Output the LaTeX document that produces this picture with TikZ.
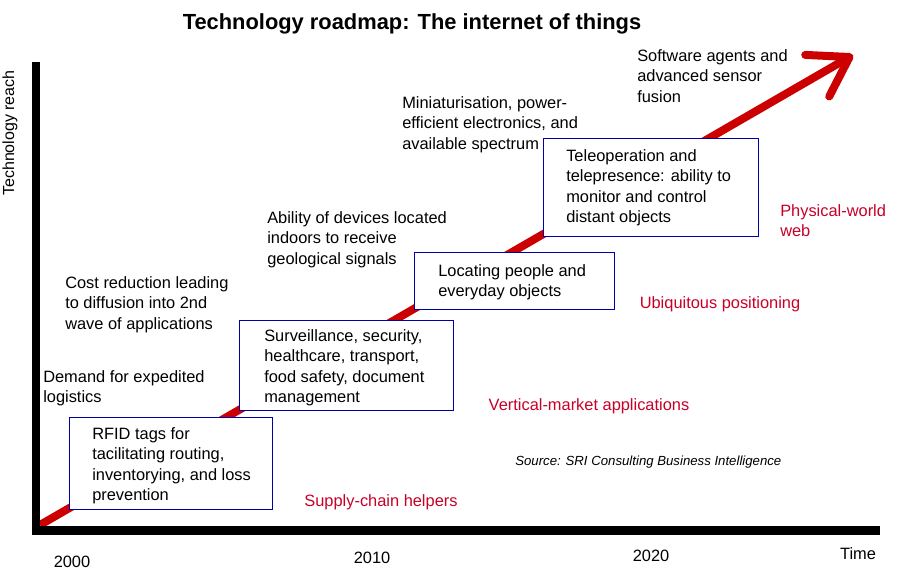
\documentclass[tikz,border=0pt]{standalone}
\usepackage{fontspec}
\setmainfont{Liberation Sans}
\usetikzlibrary{positioning, arrows.meta}
\definecolor{rmred}{RGB}{204, 0, 0}
\definecolor{rmlabel}{RGB}{200, 0, 40}
\definecolor{rmblue}{RGB}{0, 0, 170}

\begin{document}
\begin{tikzpicture}[x=0.75pt, y=-0.75pt,
    txt/.style={anchor=north west, inner sep=0pt, align=left, font=\fontsize{12.3}{15.4}\selectfont},
    phase/.style={anchor=base, inner sep=0pt, rmlabel, font=\fontsize{12.3}{15.4}\selectfont},
    year/.style={anchor=base, inner sep=0pt, font=\fontsize{12.3}{15.4}\selectfont},
    box/.style={draw=rmblue, line width=1.1pt, fill=white, anchor=north west, inner sep=0pt}]
  \useasboundingbox (0,0) rectangle (898,571);
  \node[anchor=base, inner sep=0pt, font=\fontsize{16.4}{20}\selectfont\bfseries] (title) at (412,29){Technology roadmap: The internet of things};

  % roadmap arrow and axes
  \coordinate (start) at (40,525);
  \coordinate (tip) at (853,55);
  \draw[rmred, line width=6pt, -{Straight Barb[length=28pt, width=36pt, round]}] (start) -- (tip);
  \coordinate (ytop) at (36,62);
  \coordinate (origin) at (36,530.5);
  \coordinate (xend) at (880,530.5);
  \draw[line width=6.5pt, line join=miter] (ytop) -- (origin) -- (xend);

  % boxes
  \node[box, minimum width=152pt, minimum height=69pt] (rfid) at (69,417){};
  \node[txt] (rfidtxt) at (92,427){RFID tags for\\tacilitating routing,\\inventorying, and loss\\prevention};
  \node[box, minimum width=160.5pt, minimum height=67.5pt] (surv) at (239,320){};
  \node[txt] (survtxt) at (264,329){Surveillance, security,\\healthcare, transport,\\food safety, document\\management};
  \node[box, minimum width=150pt, minimum height=42.75pt] (loc) at (414,252){};
  \node[txt] (loctxt) at (438,264){Locating people and\\everyday objects};
  \node[box, minimum width=161.25pt, minimum height=73.5pt] (tele) at (543,138){};
  \node[txt] (teletxt) at (566,149){Teleoperation and\\telepresence: ability to\\monitor and control\\distant objects};

  % drivers
  \node[txt] (demand) at (43,370){Demand for expedited\\logistics};
  \node[txt] (cost) at (65,276){Cost reduction leading\\to diffusion into 2nd\\wave of applications};
  \node[txt] (ability) at (267,211){Ability of devices located\\indoors to receive\\geological signals};
  \node[txt] (mini) at (402,96){Miniaturisation, power-\\efficient electronics, and\\available spectrum};
  \node[txt] (agents) at (637,49){Software agents and\\advanced sensor\\fusion};

  % phases
  \node[phase] (supply) at (381,506){Supply-chain helpers};
  \node[phase] (vertical) at (589,410){Vertical-market applications};
  \node[phase] (ubiq) at (720,308){Ubiquitous positioning};
  \node[txt, rmlabel] (web) at (780,204){Physical-world\\web};
  \node[anchor=base west, inner sep=0pt, font=\fontsize{9.9}{12}\selectfont\itshape] (source) at (515,465){Source: SRI Consulting Business Intelligence};

  % axis labels
  \node[year] (y2000) at (72,567){2000};
  \node[year] (y2010) at (372,563){2010};
  \node[year] (y2020) at (651,561){2020};
  \node[year] (time) at (858,559){Time};
  \node[rotate=90, inner sep=0pt, font=\fontsize{12}{14}\selectfont] (reach) at (10,133){Technology reach};
\end{tikzpicture}
\end{document}
